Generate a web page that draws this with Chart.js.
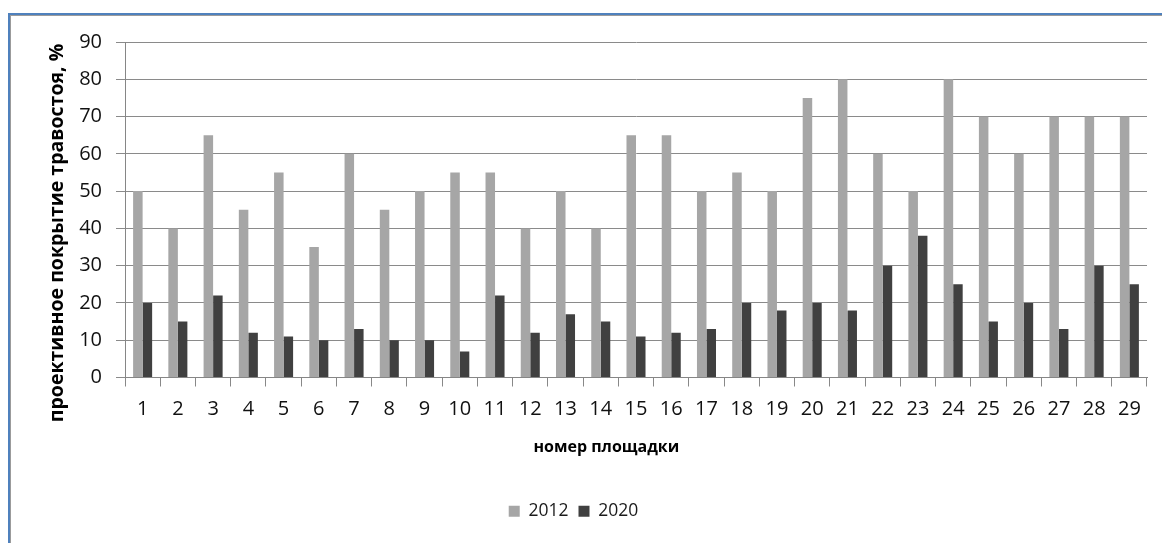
<!DOCTYPE html>
<html>
<head>
<meta charset="utf-8">
<script src="https://cdn.jsdelivr.net/npm/chart.js@4.4.1/dist/chart.umd.min.js"></script>
<style>
  html, body { margin: 0; padding: 0; background: #fff; overflow: hidden; }
  #wrap { position: relative; width: 1162px; height: 543px; overflow: hidden; }
  #chart { position: absolute; left: 0; top: 0; }
  /* blue frame around the chart panel (left and top edges visible) */
  #frame {
    position: absolute; left: 8px; top: 13px; right: -20px; bottom: -20px;
    border-left: 2px solid #4f81bd; border-top: 2px solid #4f81bd;
    box-shadow: inset 1px 1px 0 #9b9b9b; pointer-events: none;
  }
</style>
</head>
<body>
<div id="wrap">
  <canvas id="chart" width="1157" height="543"></canvas>
  <div id="frame"></div>
</div>
<script>
// Site numbers along the x axis
const sites = ['1','2','3','4','5','6','7','8','9','10','11','12','13','14','15',
               '16','17','18','19','20','21','22','23','24','25','26','27','28','29'];

// Projective grass cover, % — survey of 2012
const cover2012 = [50, 40, 65, 45, 55, 35, 60, 45, 50, 55, 55, 40, 50, 40, 65,
                   65, 50, 55, 50, 75, 80, 60, 50, 80, 70, 60, 70, 70, 70];

// Projective grass cover, % — survey of 2020
const cover2020 = [20, 15, 22, 12, 11, 10, 13, 10, 10, 7, 22, 12, 17, 15, 11,
                   12, 13, 20, 18, 20, 18, 30, 38, 25, 15, 20, 13, 30, 25];

// Value axis tick labels
const yTicks = [0, 10, 20, 30, 40, 50, 60, 70, 80, 90];

const seriesNames = ['2012', '2020'];
const xTitle = 'номер площадки';
const yTitle = 'проективное покрытие травостоя, %';

const FONT = '"Open Sans", "DejaVu Sans", sans-serif';

// Axis titles drawn relative to the plot area
const axisTitles = {
  id: 'axisTitles',
  afterDraw(chart) {
    const { ctx, chartArea } = chart;
    ctx.save();
    ctx.fillStyle = '#000';
    ctx.textAlign = 'center';
    ctx.textBaseline = 'middle';
    ctx.font = 'bold 16px ' + FONT;
    const w = chartArea.right - chartArea.left;
    ctx.fillText(xTitle, chartArea.left + w * 0.471, chartArea.bottom + 70);
    ctx.translate(chartArea.left - 68, chartArea.top + 191);
    ctx.rotate(-Math.PI / 2);
    ctx.font = 'bold 19.5px ' + FONT;
    ctx.fillText(yTitle, 0, 0);
    ctx.restore();
  }
};

function build() {
  new Chart(document.getElementById('chart'), {
    type: 'bar',
    data: {
      labels: sites,
      datasets: [
        { label: seriesNames[0], data: cover2012, backgroundColor: '#a6a6a6', borderWidth: 0 },
        { label: seriesNames[1], data: cover2020, backgroundColor: '#404040', borderWidth: 0 }
      ]
    },
    options: {
      responsive: false,
      animation: false,
      layout: { padding: { left: 0, right: 10, top: 42, bottom: 13 } },
      datasets: { bar: { categoryPercentage: 0.54, barPercentage: 1.0 } },
      plugins: {
        tooltip: { enabled: false },
        title: { display: false },
        legend: {
          position: 'bottom',
          labels: {
            boxWidth: 11, boxHeight: 11, padding: 10,
            color: '#1a1a1a',
            font: { family: FONT, size: 17.5 }
          }
        }
      },
      scales: {
        x: {
          afterFit(scale) { scale.height = 115; },
          grid: { drawOnChartArea: false, drawTicks: true, tickLength: 9, color: '#888888', offset: true },
          border: { color: '#868686', width: 1 },
          ticks: { color: '#111', padding: 11, maxRotation: 0, autoSkip: false,
                   font: { family: FONT, size: 20 } }
        },
        y: {
          min: yTicks[0], max: yTicks[yTicks.length - 1],
          afterFit(scale) { scale.width = 125; },
          afterBuildTicks(scale) { scale.ticks = yTicks.map(v => ({ value: v })); },
          grid: { color: '#8a8a8a', lineWidth: 1, tickLength: 9, drawTicks: true },
          border: { color: '#868686', width: 1 },
          ticks: { color: '#111', padding: 14, font: { family: FONT, size: 20 } }
        }
      }
    },
    plugins: [axisTitles]
  });
}

if (document.fonts && document.fonts.load) {
  Promise.all([
    document.fonts.load('20px "Open Sans"'),
    document.fonts.load('bold 19px "Open Sans"')
  ]).then(build, build);
} else {
  build();
}
</script>
</body>
</html>
